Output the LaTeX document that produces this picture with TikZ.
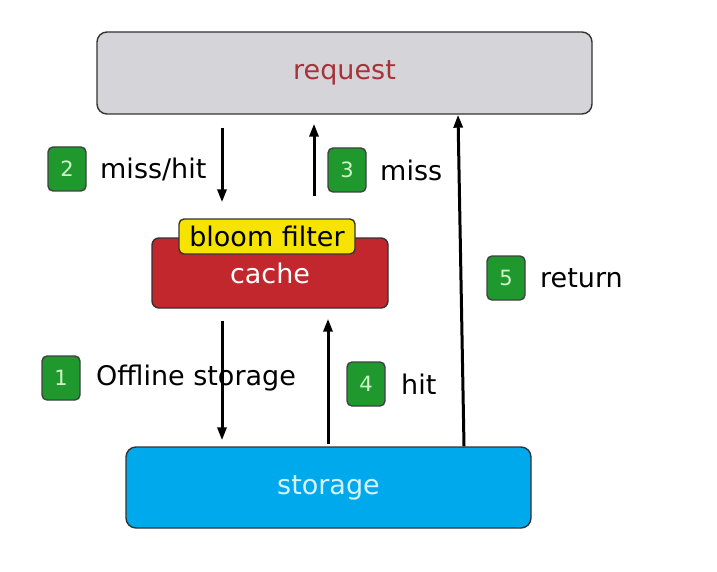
\documentclass[tikz,border=0pt]{standalone}
\usepackage{fontspec}
\setmainfont{DejaVu Sans}
\usetikzlibrary{arrows.meta}
\definecolor{reqfill}{HTML}{D5D5D9}
\definecolor{reqtext}{HTML}{A8323A}
\definecolor{cachefill}{HTML}{C1272D}
\definecolor{bloomfill}{HTML}{F7E300}
\definecolor{storefill}{HTML}{00A9EC}
\definecolor{storetext}{HTML}{D6F3FF}
\definecolor{badgefill}{HTML}{1F992E}
\definecolor{badgetext}{HTML}{CFF5C8}
\begin{document}
\begin{tikzpicture}[x=1pt, y=-1pt,
  box/.style={rounded corners=10pt, draw=black!80, line width=1.4pt, inner sep=0pt, font=\fontsize{27}{31}\selectfont},
  badge/.style={rounded corners=5pt, draw=black!75, line width=1.4pt, fill=badgefill, text=badgetext, minimum width=38pt, minimum height=44pt, inner sep=0pt, font=\fontsize{21}{25}\selectfont},
  lbl/.style={anchor=west, inner sep=0pt, font=\fontsize{27}{31}\selectfont},
  arr/.style={line width=3pt, -{Triangle[length=13pt, width=9pt]}}]
\useasboundingbox (0,0) rectangle (717,572);
\node[box, fill=reqfill, text=reqtext, minimum width=495pt, minimum height=82pt] (request) at (344.5,73){request};
\node[box, rounded corners=7pt, fill=cachefill, text=white, minimum width=236pt, minimum height=70pt] (cache) at (270,273){cache};
\node[box, rounded corners=5pt, fill=bloomfill, minimum width=176pt, minimum height=35pt] (bloom) at (267,236.5){bloom filter};
\node[box, fill=storefill, text=storetext, minimum width=405pt, minimum height=81pt] (storage) at (328.5,487.5){storage};
\coordinate (c2) at (222,0);
\coordinate (c3) at (314,0);
\coordinate (c4) at (328,0);
\coordinate (c5a) at (464,0);
\coordinate (c5b) at (458,0);
\draw[arr, shorten <=13pt, shorten >=16pt] (request.south -| c2) -- (bloom.north -| c2);
\draw[arr, shorten <=22pt, shorten >=9pt] (bloom.north -| c3) -- (request.south -| c3);
\draw[arr, shorten <=12pt, shorten >=6pt] (cache.south -| c2) -- (storage.north -| c2);
\draw[arr, shorten <=2pt, shorten >=10pt] (storage.north -| c4) -- (cache.south -| c4);
\draw[arr] (storage.north -| c5a) -- (request.south -| c5b);
\node[badge] (b2) at (67,169){2};
\node[lbl] (l2) at (100,169){miss/hit};
\node[badge] (b3) at (347,170){3};
\node[lbl] (l3) at (380,170){miss};
\node[badge] (b5) at (506,278){5};
\node[lbl] (l5) at (540,278){return};
\node[badge] (b1) at (61,378){1};
\node[lbl] (l1) at (96,378){Offline storage};
\node[badge] (b4) at (366,384){4};
\node[lbl] (l4) at (401,384){hit};
\end{tikzpicture}
\end{document}
